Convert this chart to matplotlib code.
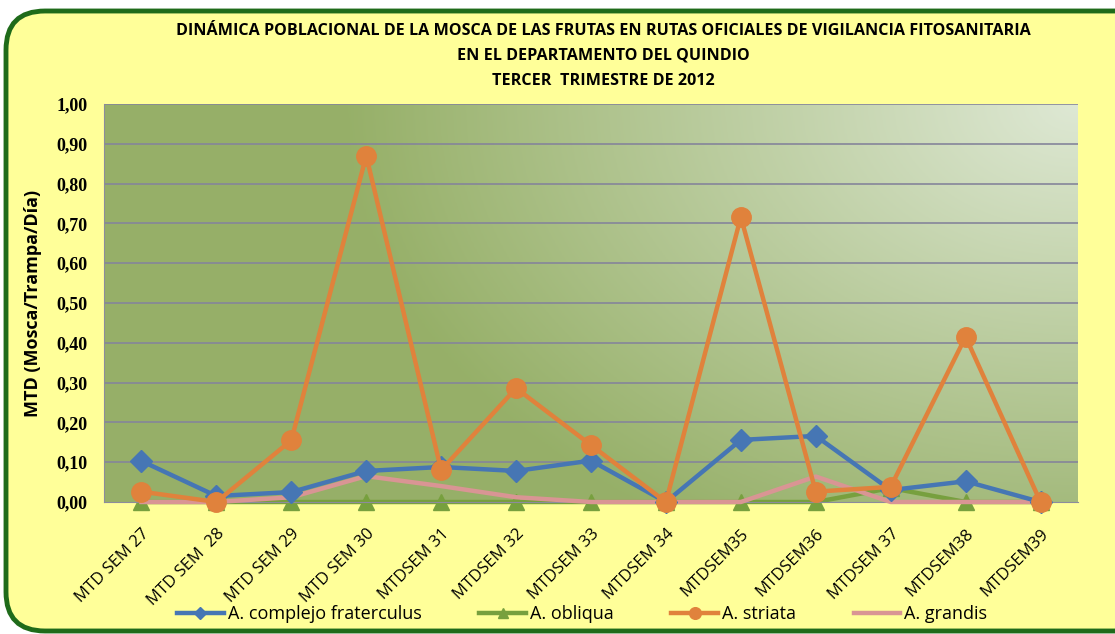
import numpy as np
import matplotlib
matplotlib.use("Agg")
import matplotlib.pyplot as plt
from matplotlib.patches import FancyBboxPatch

semanas = ["MTD SEM 27", "MTD SEM  28", "MTD SEM 29", "MTD SEM 30", "MTDSEM 31",
           "MTDSEM 32", "MTDSEM 33", "MTDSEM 34", "MTDSEM35", "MTDSEM36",
           "MTDSEM 37", "MTDSEM38", "MTDSEM39"]
fraterculus = [0.103, 0.015, 0.025, 0.078, 0.088, 0.078, 0.104, 0.0, 0.156, 0.166, 0.03, 0.052, 0.0]
obliqua = [0, 0, 0, 0, 0, 0, 0, 0, 0, 0, 0.035, 0, 0]
striata = [0.026, 0.0, 0.155, 0.87, 0.08, 0.286, 0.143, 0.0, 0.716, 0.026, 0.038, 0.415, 0.0]
grandis = [0.0, 0.0, 0.012, 0.065, 0.04, 0.012, 0.0, 0.0, 0.0, 0.064, 0.0, 0.0, 0.0]
yticks = [0.0, 0.1, 0.2, 0.3, 0.4, 0.5, 0.6, 0.7, 0.8, 0.9, 1.0]

plt.rcParams['font.family'] = ['Open Sans', 'DejaVu Sans']

fig = plt.figure(figsize=(11.15, 6.34), dpi=100)
fig.patch.set_facecolor('white')

# rounded yellow frame
frame = FancyBboxPatch((6 / 1115, 3 / 634), 1.05, (634 - 11 - 3) / 634,
                       boxstyle="round,pad=0,rounding_size=0.035",
                       transform=fig.transFigure, facecolor='#ffff99',
                       edgecolor='#1f6b1a', linewidth=3.5, zorder=-5,
                       mutation_aspect=1115 / 634)
fig.patches.append(frame)

ax = fig.add_axes([104 / 1115, 1 - 502 / 634, (1078 - 104) / 1115, (502 - 104) / 634])
ax.set_zorder(2)
ax.set_xlim(-0.5, 12.5)
ax.set_ylim(0, 1.0)

# gradient background of the plot area
nx, ny = 300, 200
gx, gy = np.meshgrid(np.linspace(0, 1, nx), np.linspace(1, 0, ny))
d = np.sqrt(((1 - gx) * 1.0) ** 2 + ((1 - gy) * 0.6) ** 2)
t = np.clip(d / 0.75, 0, 1)[..., None]
light = np.array([0.87, 0.91, 0.83])
dark = np.array([0.59, 0.69, 0.41])
img = light * (1 - t) + dark * t
ax.imshow(img, extent=[-0.5, 12.5, 0, 1.0], aspect='auto', origin='upper', zorder=0)

for y in yticks[1:]:
    ax.axhline(y, color='#85859a', linewidth=1.2, zorder=1)

x = np.arange(len(semanas))
ax.plot(x, grandis, color='#d99594', linewidth=3.2, zorder=3, clip_on=False,
        label='A. grandis')
ax.plot(x, obliqua, color='#77a03e', linewidth=3.2, marker='^', markersize=12,
        zorder=2, clip_on=False, label='A. obliqua')
ax.plot(x, fraterculus, color='#4676b4', linewidth=3.2, marker='D', markersize=11,
        zorder=4, clip_on=False, label='A. complejo fraterculus')
ax.plot(x, striata, color='#e0823c', linewidth=3.2, marker='o', markersize=14,
        zorder=5, clip_on=False, label='A. striata')

for s in ['top', 'right']:
    ax.spines[s].set_visible(False)
ax.spines['left'].set_color('#8c8c9c')
ax.spines['bottom'].set_color('#8c8c9c')
ax.tick_params(length=0)

ax.set_yticks(yticks)
ax.set_yticklabels([f"{v:.2f}".replace('.', ',') for v in yticks],
                   family='Liberation Serif', fontweight='bold', fontsize=13)
ax.tick_params(axis='y', pad=12)
ax.set_xticks(x)
ax.set_xticklabels(semanas, rotation=45, ha='right', rotation_mode='anchor',
                   fontsize=12)
ax.tick_params(axis='x', pad=17)

ax.set_ylabel('MTD (Mosca/Trampa/Día)', fontsize=13, fontweight='bold', labelpad=10)

fig.text(0.541, 1 - 56 / 634,
         "DINÁMICA POBLACIONAL DE LA MOSCA DE LAS FRUTAS EN RUTAS OFICIALES DE VIGILANCIA FITOSANITARIA\n"
         "EN EL DEPARTAMENTO DEL QUINDIO\nTERCER  TRIMESTRE DE 2012",
         ha='center', va='center', fontsize=11.6, fontweight='bold', linespacing=1.72)

handles, labels = ax.get_legend_handles_labels()
order = [2, 1, 3, 0]
fig.legend([handles[i] for i in order], [labels[i] for i in order],
           loc='center', bbox_to_anchor=(0.522, 1 - 614 / 634), ncol=4,
           frameon=False, fontsize=13, handlelength=2.6, handletextpad=0.2,
           columnspacing=3.2, markerscale=0.6)

fig.savefig('out.png', dpi=100)
